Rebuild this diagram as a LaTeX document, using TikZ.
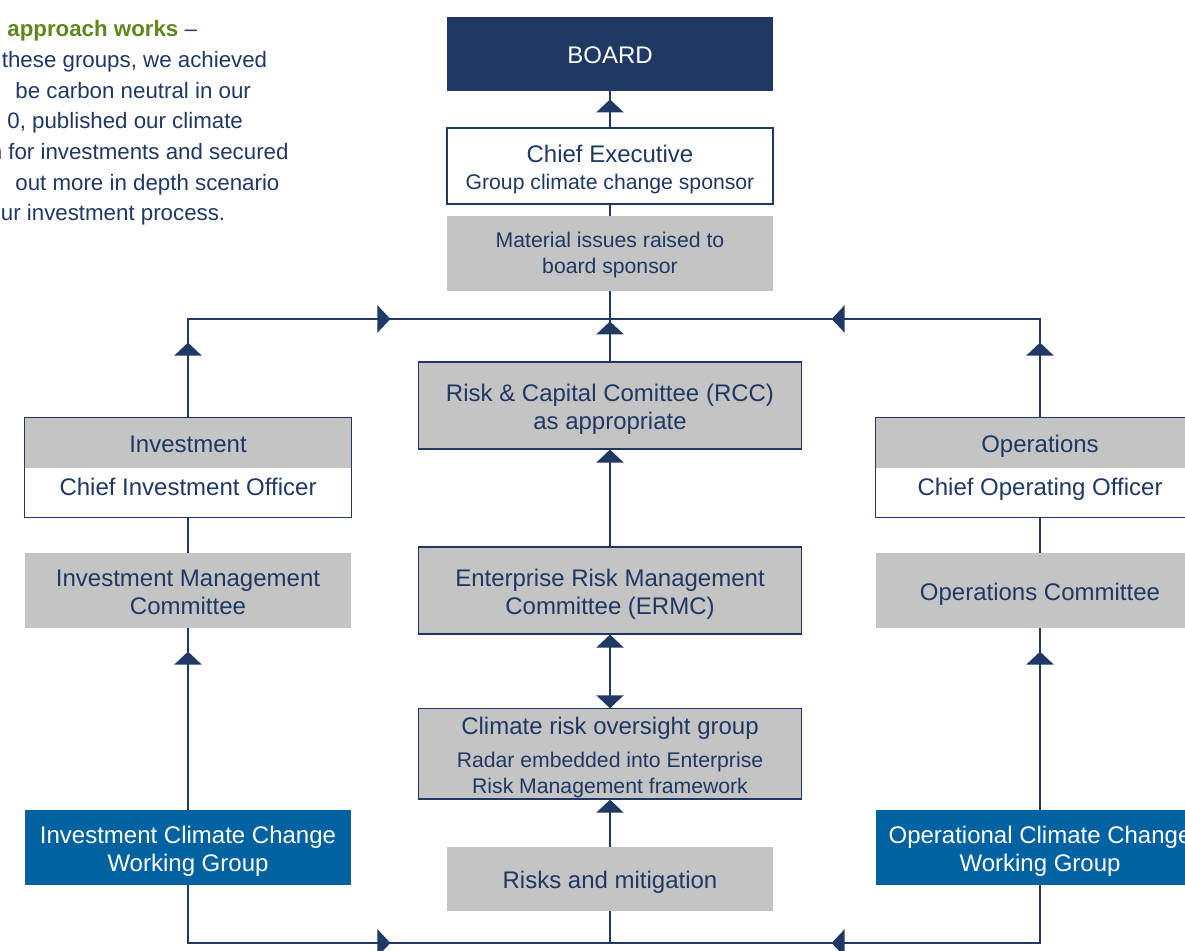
\documentclass[tikz,border=0pt]{standalone}
\usepackage{fontspec}
\setmainfont{Liberation Sans}
\usetikzlibrary{arrows.meta,decorations.markings}
\definecolor{navy}{RGB}{31,56,100}
\definecolor{boxgrey}{RGB}{196,196,196}
\definecolor{wgblue}{RGB}{0,98,161}
\definecolor{leafgreen}{RGB}{94,135,30}
\newcommand{\bigtxt}{\fontsize{12}{14}\selectfont}
\newcommand{\smalltxt}{\fontsize{10.6}{13}\selectfont}
\newcommand{\introtxt}{\fontsize{11.15}{15}\selectfont}
% struts that fix where the text sits in a box
\newcommand{\tstrut}{\rule{0pt}{12.6pt}}
\newcommand{\sstrut}{\rule{0pt}{10.1pt}}
\newcommand{\bstrut}{\rule[-3pt]{0pt}{0pt}}
\tikzset{node distance=2cm, auto,
  tri/.tip={Triangle[width=13.5pt,length=6.5pt]},
  box/.style={minimum width=163pt, inner sep=0pt, align=center, text=navy, font=\bigtxt},
  greybox/.style={box, fill=boxgrey},
  whitebox/.style={box, fill=white},
  navybox/.style={box, fill=navy, text=white},
  wgbox/.style={box, fill=wgblue, text=white, minimum height=37.5pt},
  framed/.style={draw=navy, line width=0.6pt},
  wide/.style={minimum width=191.5pt, minimum height=43.5pt},
  intro/.style={anchor=base west, inner sep=0pt, text=navy, font=\introtxt},
  link/.style={draw=navy, line width=1.2pt},
  midtip/.style={postaction={decorate}, decoration={markings, mark=at position #1 with {\arrow{tri}}}},
  twotips/.style 2 args={postaction={decorate}, decoration={markings,
    mark=at position #1 with {\arrow{tri}}, mark=at position #2 with {\arrow{tri}}}}}

\begin{document}
\begin{tikzpicture}[x=0.5pt, y=-0.5pt]
\useasboundingbox (0,0) rectangle (1185,951);
\clip (0,0) rectangle (1185,951);

% text at the top left, cut by the page edge
\node[intro] (t1) at (7,37) {{\bfseries\color{leafgreen}approach works} –};
\node[intro] (t2) at (1.5,68) {these groups, we achieved};
\node[intro] (t3) at (15,98.5) {be carbon neutral in our};
\node[intro] (t4) at (7,129) {0, published our climate};
\node[intro] (t5) at (-10.6,160) {n for investments and secured};
\node[intro] (t6) at (15,190.5) {out more in depth scenario};
\node[intro] (t7) at (0.5,221) {ur investment process.};

% centre column
\node[navybox, minimum height=37pt] (b) at (610,54) {\tstrut BOARD\bstrut};
\node[whitebox, framed, minimum height=38pt, font=\smalltxt] (ce) [node distance=56pt, below of=b]
  {{\bigtxt\tstrut Chief Executive}\\[0.5pt]Group climate change sponsor\bstrut};
\node[greybox, minimum height=37.5pt, font=\smalltxt] (mi) [node distance=43.75pt, below of=ce]
  {\sstrut Material issues raised to\\board sponsor\bstrut};
\node[greybox, framed, wide] (rcc) [node distance=76pt, below of=mi]
  {\tstrut Risk \& Capital Comittee (RCC)\\as appropriate\bstrut};
\node[greybox, framed, wide] (ermc) [node distance=92.5pt, below of=rcc]
  {\tstrut Enterprise Risk Management\\Committee (ERMC)\bstrut};
\node[greybox, framed, wide, minimum height=44pt, font=\smalltxt] (crog) [node distance=81.75pt, below of=ermc]
  {{\bigtxt\tstrut Climate risk oversight group}\\[3.5pt]Radar embedded into Enterprise\\Risk Management framework\bstrut};
\node[greybox, minimum height=32pt] (rm) [node distance=62.5pt, below of=crog] {\tstrut Risks and mitigation\bstrut};

% investment column
\node[greybox, minimum height=25pt] (inv) at (188,443) {\tstrut Investment\bstrut};
\node[whitebox, minimum height=24.5pt] (cio) [node distance=24.75pt, below of=inv]
  {\rule[-5.6pt]{0pt}{0pt}Chief Investment Officer};
\draw[framed] (inv.north west) rectangle (cio.south east);
\node[greybox, minimum height=37.5pt] (imc) [node distance=49pt, below of=cio]
  {\tstrut Investment Management\\Committee\bstrut};
\node[wgbox] (iwg) [node distance=128.5pt, below of=imc] {\tstrut Investment Climate Change\\Working Group\bstrut};

% operations column
\node[greybox, minimum height=25pt, minimum width=164pt] (ops) at (1040,443) {\tstrut Operations\bstrut};
\node[whitebox, minimum height=24.5pt, minimum width=164pt] (coo) [node distance=24.75pt, below of=ops]
  {\rule[-5.6pt]{0pt}{0pt}\rule{0pt}{8.7pt}Chief Operating Officer};
\draw[framed] (ops.north west) rectangle (coo.south east);
\node[greybox, minimum height=37.5pt, minimum width=164pt] (opc) [node distance=49pt, below of=coo]
  {\tstrut Operations Committee\bstrut};
\node[wgbox, minimum width=164pt] (owg) [node distance=128.5pt, below of=opc]
  {\tstrut Operational Climate Change\\Working Group\bstrut};

\coordinate (jt) at (610,319);
\coordinate (jb) at (610,943);

% connectors
\draw[link, midtip=14pt] (ce) -- (b);
\draw[link] (mi) -- (ce);
\draw[link] (mi) -- (jt);
\draw[link, midtip=20pt] (rcc) -- (jt);
\draw[link, twotips={37.5pt}{150.5pt}] (inv) |- (jt);
\draw[link, twotips={37.5pt}{153.5pt}] (ops) |- (jt);
\draw[link, -tri] (ermc) -- (rcc);
\draw[link, tri-tri] (ermc) -- (crog);
\draw[link, -tri] (rm) -- (crog);
\draw[link] (cio) -- (imc);
\draw[link] (coo) -- (opc);
\draw[link, midtip=79pt] (iwg) -- (imc);
\draw[link, midtip=79pt] (owg) -- (opc);
\draw[link, midtip=130pt] (iwg) |- (jb);
\draw[link, midtip=133pt] (owg) |- (jb);
\draw[link] (jb) -- (rm);
\end{tikzpicture}
\end{document}
